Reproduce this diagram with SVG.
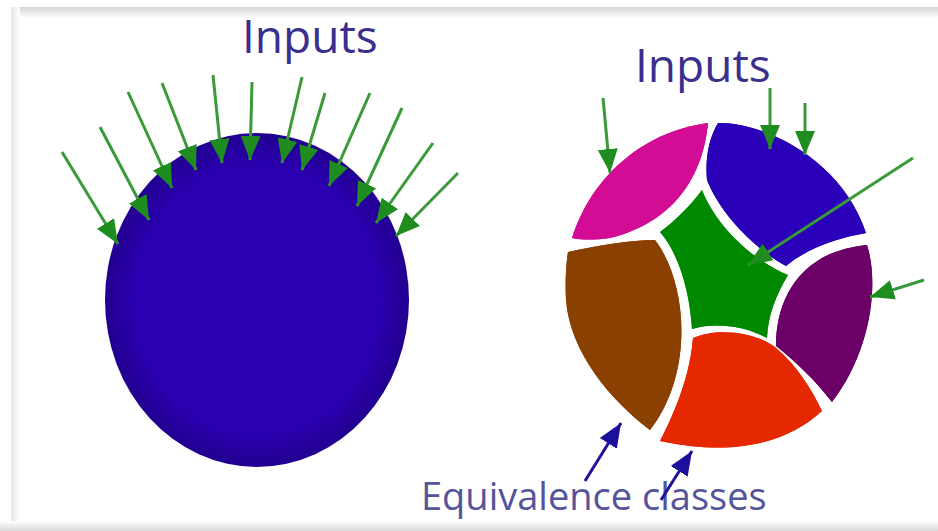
<svg xmlns="http://www.w3.org/2000/svg" width="938" height="531" viewBox="0 0 938 531">
<defs>
  <style>
    .lbl{font-family:"Open Sans","Noto Sans","DejaVu Sans",sans-serif;}
    .inputs{font-size:46px;fill:#3a2f8c;}
    .eq{font-size:38px;fill:#54549a;}
    .g{stroke:#3a9a3a;stroke-width:3;fill:none;marker-end:url(#gh);}
    .n{stroke:#20139a;stroke-width:3;fill:none;marker-end:url(#nh);}
    .seg{stroke:none;}
    .sep{fill:none;stroke:#ffffff;stroke-width:5;stroke-linejoin:round;}
  </style>
  <marker id="gh" markerUnits="userSpaceOnUse" markerWidth="26" markerHeight="22" refX="24" refY="11" orient="auto">
    <path d="M0,1 L24,11 L0,21 Z" fill="#1f8c1f"/>
  </marker>
  <marker id="nh" markerUnits="userSpaceOnUse" markerWidth="26" markerHeight="22" refX="24" refY="11" orient="auto">
    <path d="M0,1 L24,11 L0,21 Z" fill="#1c0f9c"/>
  </marker>
  <radialGradient id="lg" cx="0.5" cy="0.5" r="0.5">
    <stop offset="0.8" stop-color="#2b00b0"/>
    <stop offset="1" stop-color="#220090"/>
  </radialGradient>
  <linearGradient id="topbar" x1="0" y1="0" x2="0" y2="1">
    <stop offset="0" stop-color="#d4d4d4"/>
    <stop offset="1" stop-color="#ffffff"/>
  </linearGradient>
  <linearGradient id="leftbar" x1="0" y1="0" x2="1" y2="0">
    <stop offset="0" stop-color="#e4e4e4"/>
    <stop offset="1" stop-color="#ffffff"/>
  </linearGradient>
  <linearGradient id="botbar" x1="0" y1="0" x2="0" y2="1">
    <stop offset="0" stop-color="#ffffff"/>
    <stop offset="1" stop-color="#d8d8d8"/>
  </linearGradient>
</defs>

<rect x="0" y="0" width="938" height="531" fill="#ffffff"/>
<rect x="11" y="7" width="927" height="11" fill="url(#topbar)"/>
<rect x="11" y="7" width="9" height="516" fill="url(#leftbar)"/>
<rect x="0" y="521" width="938" height="10" fill="url(#botbar)"/>

<g id="input-domain">
  <ellipse cx="257" cy="300" rx="152" ry="167" fill="url(#lg)"/>
</g>

<g id="label-inputs-left">
  <text class="lbl inputs" x="242" y="53">Inputs</text>
</g>

<g id="label-inputs-right">
  <text class="lbl inputs" x="635" y="82">Inputs</text>
</g>

<g id="partitioned-domain">
  <g id="class-magenta"><path id="pm" class="seg" fill="#d20c94" d="M572,238 C590,180 640,132 708,123 C703,175 675,222 610,238 C595,240 582,240 572,238 Z"/></g>
  <g id="class-blue"><path id="pb" class="seg" fill="#2a00b8" d="M718,123 C765,122 842,160 866,233 C843,237 810,246 786,266 C760,252 722,218 707,180 C705,158 709,138 718,123 Z"/></g>
  <g id="class-green"><path id="pg" class="seg" fill="#008800" d="M660,232 C676,220 690,206 702,190 C716,226 752,260 788,275 C776,295 768,315 767,338 C745,326 715,322 692,329 C690,295 680,255 660,232 Z"/></g>
  <g id="class-purple"><path id="pp" class="seg" fill="#6c0066" d="M867,245 C879,282 872,350 832,402 C815,380 795,361 776,346 C776,310 790,272 830,254 C845,248 857,246 867,245 Z"/></g>
  <g id="class-red"><path id="pr" class="seg" fill="#e62800" d="M693,338 C720,326 760,334 776,348 C796,364 812,390 822,411 C790,440 740,458 660,441 C676,410 690,375 693,338 Z"/></g>
  <g id="class-brown"><path id="pn" class="seg" fill="#8a4000" d="M568,252 C600,245 630,240 655,240 C686,280 696,370 650,430 C610,400 570,352 566,300 C565,280 566,265 568,252 Z"/></g>
  <g id="separators">
    <use href="#pm" class="sep"/>
    <use href="#pb" class="sep"/>
    <use href="#pg" class="sep"/>
    <use href="#pp" class="sep"/>
    <use href="#pr" class="sep"/>
    <use href="#pn" class="sep"/>
  </g>
</g>

<g id="label-equivalence">
  <text class="lbl eq" x="421" y="510">Equivalence classes</text>
</g>

<g id="connectors">
  <line class="g" x1="62" y1="152" x2="118" y2="244"/>
  <line class="g" x1="100" y1="127" x2="149" y2="220"/>
  <line class="g" x1="128" y1="92" x2="172" y2="188"/>
  <line class="g" x1="162" y1="83" x2="196" y2="170"/>
  <line class="g" x1="213" y1="75" x2="222" y2="163"/>
  <line class="g" x1="252" y1="82" x2="250" y2="160"/>
  <line class="g" x1="302" y1="77" x2="282" y2="163"/>
  <line class="g" x1="325" y1="93" x2="302" y2="170"/>
  <line class="g" x1="370" y1="93" x2="329" y2="186"/>
  <line class="g" x1="402" y1="108" x2="357" y2="206"/>
  <line class="g" x1="433" y1="143" x2="376" y2="223"/>
  <line class="g" x1="458" y1="173" x2="396" y2="236"/>

  <line class="g" x1="603" y1="98" x2="610" y2="173"/>
  <line class="g" x1="770" y1="88" x2="770" y2="149"/>
  <line class="g" x1="805" y1="103" x2="805" y2="155"/>
  <line class="g" x1="913" y1="158" x2="748" y2="265"/>
  <line class="g" x1="924" y1="280" x2="870" y2="297"/>

  <line class="n" x1="585" y1="481" x2="621" y2="423"/>
  <line class="n" x1="661" y1="500" x2="692" y2="451"/>
</g>
</svg>
